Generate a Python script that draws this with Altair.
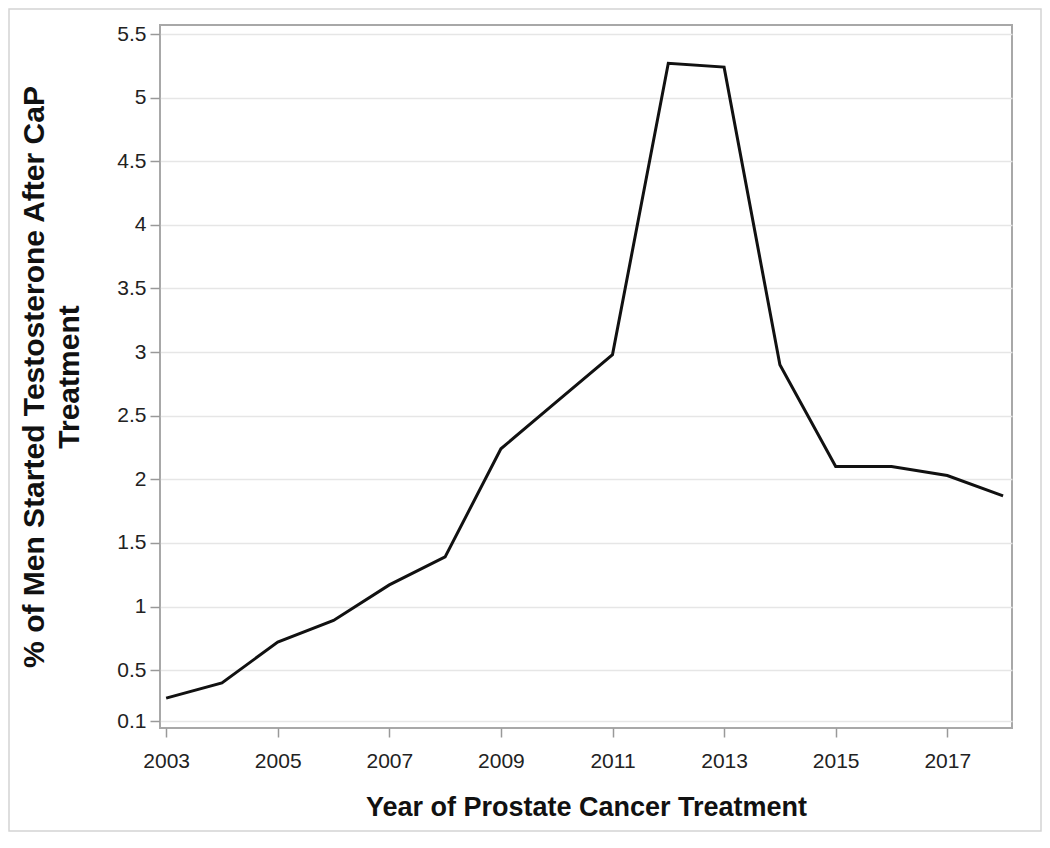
import altair as alt
import pandas as pd

years = [2003, 2004, 2005, 2006, 2007, 2008, 2009, 2010, 2011, 2012, 2013, 2014, 2015, 2016, 2017, 2018]
pct = [0.28, 0.40, 0.72, 0.89, 1.17, 1.39, 2.24, 2.61, 2.98, 5.27, 5.24, 2.90, 2.10, 2.10, 2.03, 1.87]
y_ticks = [0.1, 0.5, 1, 1.5, 2, 2.5, 3, 3.5, 4, 4.5, 5, 5.5]
x_ticks = [2003, 2005, 2007, 2009, 2011, 2013, 2015, 2017]

df = pd.DataFrame({"year": years, "pct": pct})

FONT = "Liberation Sans"

line = alt.Chart(df).mark_line(color="#111111", strokeWidth=3).encode(
    x=alt.X(
        "year:Q",
        scale=alt.Scale(domain=[2002.89, 2018.16], nice=False, zero=False),
        axis=alt.Axis(
            values=x_ticks,
            format="d",
            grid=False,
            title="Year of Prostate Cancer Treatment",
            titleFontSize=27,
            titleFont=FONT,
            titleFontWeight="bold",
            titleColor="#111111",
            titlePadding=23,
            labelFontSize=21,
            labelFont=FONT,
            labelColor="#222222",
            labelPadding=13,
            tickSize=9,
            tickColor="#999999",
            tickWidth=1.5,
            domain=False,
        ),
    ),
    y=alt.Y(
        "pct:Q",
        scale=alt.Scale(domain=[0.045, 5.571], nice=False, zero=False),
        axis=alt.Axis(
            values=y_ticks,
            format="~g",
            grid=True,
            gridColor="#e6e6e6",
            gridWidth=1.5,
            title=["% of Men Started Testosterone After CaP", "Treatment"],
            titleFontSize=30,
            titleFont=FONT,
            titleFontWeight="bold",
            titleColor="#111111",
            titleX=-111,
            titleLineHeight=35,
            labelFontSize=21,
            labelFont=FONT,
            labelColor="#222222",
            labelPadding=4,
            tickSize=10,
            tickColor="#999999",
            tickWidth=1.5,
            domain=False,
        ),
    ),
)

border = alt.Chart(pd.DataFrame({"a": [0]})).mark_rect(
    fillOpacity=0, stroke="#d4d4d4", strokeWidth=1.5
).encode(
    x=alt.value(-151), x2=alt.value(881), y=alt.value(-16), y2=alt.value(806)
)

chart = alt.layer(border, line).properties(
    width=852,
    height=703,
    autosize="none",
    padding={"left": 152, "top": 17, "right": 30, "bottom": 105},
).configure_view(stroke="#a8a8a8", strokeWidth=2)

chart.save("out.html", embed_options={"renderer": "svg", "actions": False})
